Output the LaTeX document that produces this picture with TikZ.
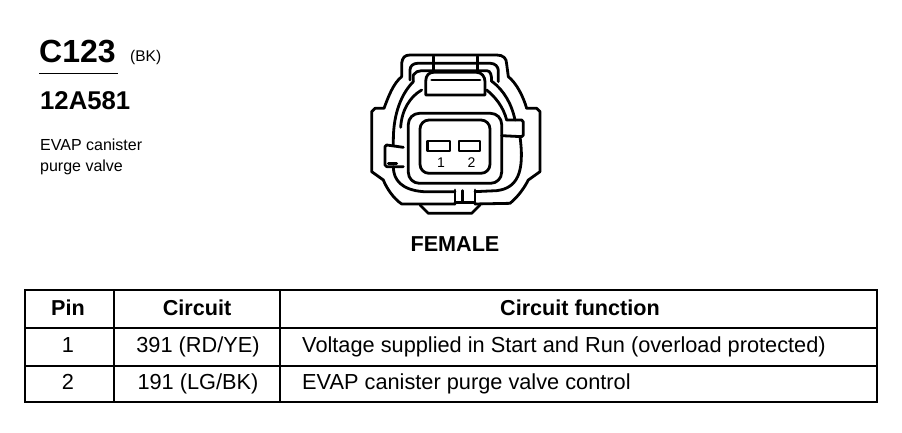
\documentclass[tikz,border=0pt]{standalone}
\usepackage{fontspec}
\setmainfont{Liberation Sans}
\tikzset{
 lbl/.style = {inner sep=0pt, anchor=base west},
 mid/.style = {inner sep=0pt, anchor=base},
 headtxt/.style = {mid, font=\bfseries\fontsize{21.6}{24}\selectfont},
 bodytxt/.style = {font=\fontsize{21.75}{24}\selectfont},
 rule/.style = {line width=2.8pt, line cap=rect},
 shell/.style = {line width=2.8pt, line join=round, line cap=round}
}
\begin{document}
\begin{tikzpicture}[x=1pt, y=-1pt]
 \useasboundingbox (0,0) rectangle (902,432);
 % title block
 \node[lbl, font=\bfseries\fontsize{32}{34}\selectfont] (conn) at (39,62) {C123};
 \node[lbl, font=\fontsize{15.5}{17}\selectfont] (colour) at (130,61) {(BK)};
 \draw[line width=1.8pt] (39,73.5) coordinate (ulA) -- (118,73.5) coordinate (ulB);
 \node[lbl, font=\bfseries\fontsize{25.7}{28}\selectfont] (part) at (40,109) {12A581};
 \node[lbl, font=\fontsize{16}{19}\selectfont] (descA) at (40,150) {EVAP canister};
 \node[lbl, font=\fontsize{16}{19}\selectfont] (descB) at (40,171) {purge valve};
 \node[headtxt] (gender) at (455,251) {FEMALE};
 % connector, in units of the 3x crop
 \begin{scope}[shift={(360,40)}, x=0.3333pt, y=-0.3333pt, shell]
  \draw (125,110) -- (125,70) .. controls (127,52) and (135,45) .. (150,45) -- (410,45)
   .. controls (430,45) and (440,55) .. (440,72) -- (445,110)
   .. controls (470,130) and (490,170) .. (500,205) -- (530,205) -- (540,215) -- (540,395)
   -- (505,420) .. controls (495,440) and (475,470) .. (450,490) -- (345,492);
  \draw (125,110) .. controls (100,130) and (85,170) .. (72,205) -- (45,205) -- (35,215) -- (35,395)
   -- (70,420) .. controls (80,445) and (100,475) .. (125,492) -- (285,492);
  % lower bump and key
  \draw (180,495) -- (205,520) -- (335,520) -- (360,495);
  \draw (285,492) -- (285,450);
  \draw (345,492) -- (345,450);
  \draw (285,488) -- (345,488);
  \draw (307,452) -- (307,486);
  % latch
  \draw (150,120) -- (150,90) .. controls (150,78) and (160,70) .. (172,70) -- (392,70)
   .. controls (405,70) and (415,80) .. (415,92) -- (415,125);
  \draw (160,125) -- (160,105) .. controls (165,96) and (175,92) .. (185,92) -- (380,92)
   .. controls (392,92) and (395,105) .. (395,125);
  \draw (220,50) -- (220,95);
  \draw (352,50) -- (352,95);
  \draw (197,165) -- (197,125) .. controls (197,105) and (208,97) .. (220,97) -- (350,97)
   .. controls (365,97) and (375,110) .. (375,125) -- (375,165) -- cycle;
  \draw (215,120) -- (360,120);
  % side walls
  \draw (160,125) .. controls (125,160) and (100,220) .. (100,300) -- (100,315);
  \draw (185,150) .. controls (150,170) and (125,210) .. (122,262);
  \draw (397,125) .. controls (430,150) and (455,190) .. (465,240);
  \draw (380,150) .. controls (405,170) and (430,200) .. (440,240);
  % side tabs
  \draw (440,240) -- (485,240) -- (490,246) -- (490,285) -- (485,290) -- (425,287);
  \draw (130,322) -- (80,315) -- (75,320) -- (75,375) -- (80,380) -- (130,380);
  \draw (85,370) -- (110,370);
  % lower wall
  \draw (100,380) .. controls (100,420) and (125,450) .. (190,455) -- (285,455);
  \draw (345,455) -- (410,452) .. controls (470,445) and (495,400) .. (480,290);
  % plug face
  \draw[rounded corners=11pt] (145,220) rectangle (425,430);
  \draw[rounded corners=9pt] (180,240) rectangle (390,400);
  \draw (203,303) rectangle (270,333);
  \draw (297,303) rectangle (360,333);
 \end{scope}
 \node[mid, font=\fontsize{14}{16}\selectfont] (pinA) at (441,167.5) {1};
 \node[mid, font=\fontsize{14}{16}\selectfont] (pinB) at (471.5,167.5) {2};
 % table
 \draw[rule] (25,290) rectangle (877,402);
 \draw[rule] (25,328) -- (877,328);
 \draw[rule] (25,366) -- (877,366);
 \draw[rule] (114,290) -- (114,402);
 \draw[rule] (280,290) -- (280,402);
 \node[headtxt] (hPin) at (68,315) {Pin};
 \node[headtxt] (hCircuit) at (197,315) {Circuit};
 \node[headtxt] (hFunc) at (580,315) {Circuit function};
 \node[mid, bodytxt] (pinOne) at (68,352) {1};
 \node[mid, bodytxt] (cirOne) at (198,352) {391 (RD/YE)};
 \node[lbl, bodytxt] (funOne) at (302,352) {Voltage supplied in Start and Run (overload protected)};
 \node[mid, bodytxt] (pinTwo) at (68,389) {2};
 \node[mid, bodytxt] (cirTwo) at (198,389) {191 (LG/BK)};
 \node[lbl, bodytxt] (funTwo) at (302,389) {EVAP canister purge valve control};
\end{tikzpicture}
\end{document}
